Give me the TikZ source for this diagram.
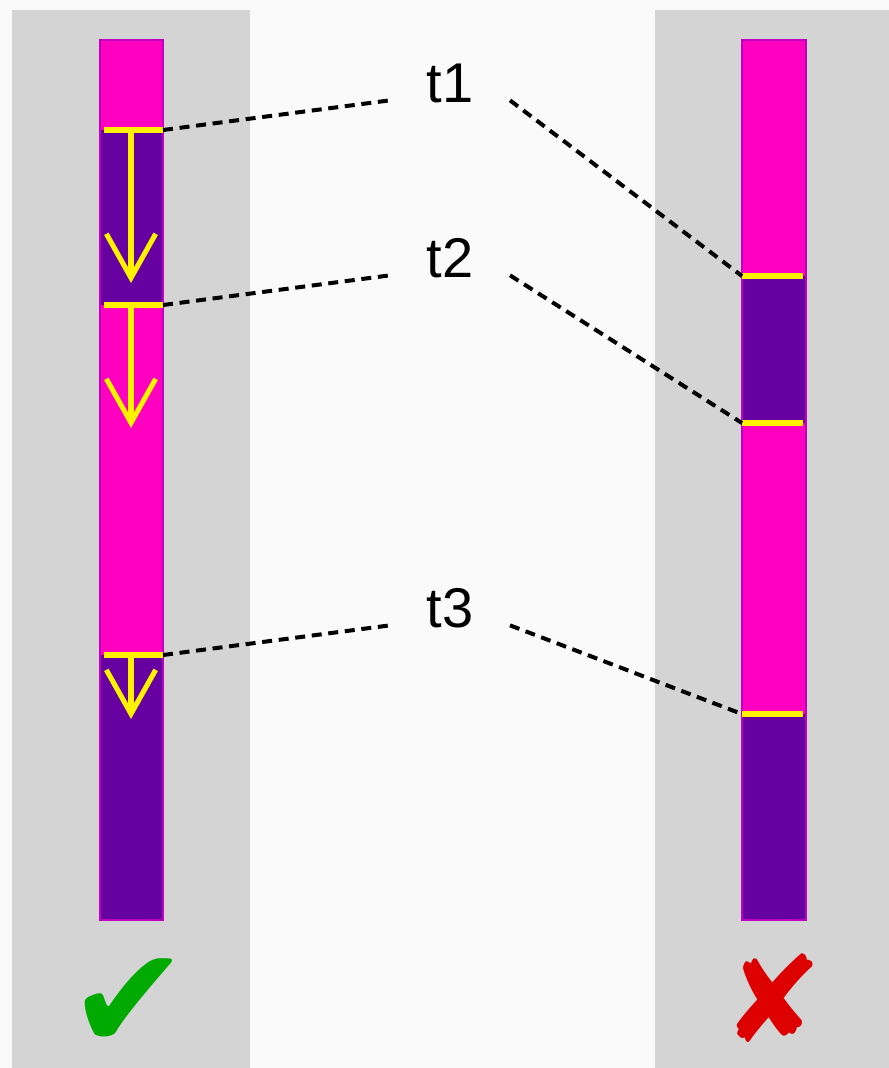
\documentclass[tikz,border=0pt]{standalone}
\usepackage{fontspec}
\setmainfont{Liberation Sans}
\newfontfamily\marksfont{DejaVu Sans}
\usetikzlibrary{arrows.meta}
\definecolor{pagebg}{HTML}{FAFAFA}
\definecolor{panelgray}{HTML}{D4D4D4}
\definecolor{barpink}{HTML}{FF00C0}
\definecolor{barpurple}{HTML}{6600A0}
\definecolor{barrim}{HTML}{C000C0}
\definecolor{okgreen}{HTML}{00AA00}
\definecolor{badred}{HTML}{DD0000}
\tikzset{
  seg/.style={draw=barrim, line width=1.2pt},
  tick/.style={draw=yellow, line width=5pt},
  fall/.style={draw=yellow, line width=3.8pt, -{Straight Barb[length=33pt,width=37pt]}},
  link/.style={draw=black, line width=3pt, dash pattern=on 7.5pt off 5pt},
  tlabel/.style={inner sep=0.75pt, font=\fontsize{42}{44}\selectfont},
  verdict/.style={anchor=base, inner sep=0pt}
}
\begin{document}
\begin{tikzpicture}[x=0.75pt,y=0.75pt,yscale=-1,xscale=1]
\useasboundingbox (0,0) rectangle (889,1068);
%Shape: Rectangle [background]
\fill [pagebg] (0,0) rectangle (889,1068);
%Shape: Rectangle [left panel]
\fill [panelgray] (12,10) rectangle (250,1068);
%Shape: Rectangle [right panel]
\fill [panelgray] (655,10) rectangle (889,1068);

%Left bar
\fill [barpink] (100,40) rectangle (163,130);
\fill [barpurple] (100,130) rectangle (163,305);
\fill [barpink] (100,305) rectangle (163,655);
\fill [barpurple] (100,655) rectangle (163,920);
\draw [seg] (100,40) rectangle (163,920);
%Right bar
\fill [barpink] (742,40) rectangle (806,276);
\fill [barpurple] (742,276) rectangle (806,423);
\fill [barpink] (742,423) rectangle (806,714);
\fill [barpurple] (742,714) rectangle (806,920);
\draw [seg] (742,40) rectangle (806,920);

%Marker points
\coordinate (la) at (163,130);
\coordinate (lb) at (163,305);
\coordinate (lc) at (163,655);
\coordinate (ra) at (742,276);
\coordinate (rb) at (742,423);
\coordinate (rc) at (742,714);

%Yellow ticks
\draw [tick] (104,130) -- (la);
\draw [tick] (104,305) -- (lb);
\draw [tick] (104,655) -- (lc);
\draw [tick] (ra) -- (803,276);
\draw [tick] (rb) -- (803,423);
\draw [tick] (rc) -- (803,714);

%Arrows
\draw [fall] (131,130) -- (131,283);
\draw [fall] (131,305) -- (131,428);
\draw [fall] (131,655) -- (131,719);

% Text Node
\node [tlabel] (t1) at (450,83) {t1};
% Text Node
\node [tlabel] (t2) at (450,258) {t2};
% Text Node
\node [tlabel] (t3) at (450,608) {t3};

%Dashed links
\draw [link] (la) -- ([xshift=-45pt,yshift=13pt]t1.center);
\draw [link] ([xshift=45pt,yshift=13pt]t1.center) -- (ra);
\draw [link] (lb) -- ([xshift=-45pt,yshift=13pt]t2.center);
\draw [link] ([xshift=45pt,yshift=13pt]t2.center) -- (rb);
\draw [link] (lc) -- ([xshift=-45pt,yshift=13pt]t3.center);
\draw [link] ([xshift=45pt,yshift=13pt]t3.center) -- (rc);

% Text Node
\node [verdict, text=okgreen, font=\marksfont\fontsize{108}{108}\selectfont] (ok) at (129,1049) {✔};
% Text Node
\node [verdict, text=badred, font=\marksfont\fontsize{90}{90}\selectfont] (bad) at (773,1042) {✘};

\end{tikzpicture}
\end{document}
